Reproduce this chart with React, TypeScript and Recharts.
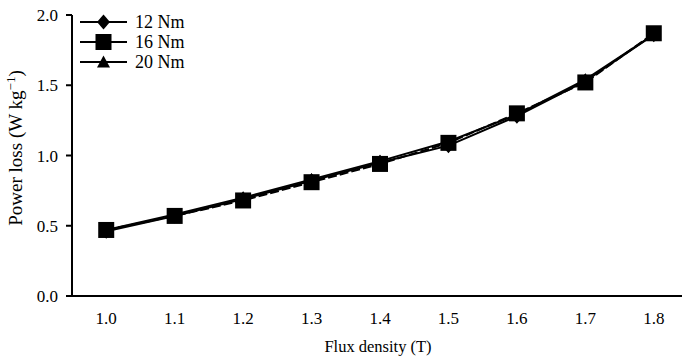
import React from 'react';
import { LineChart, Line, XAxis, YAxis, Label } from 'recharts';

const fluxDensity = ['1.0', '1.1', '1.2', '1.3', '1.4', '1.5', '1.6', '1.7', '1.8'];
const loss12Nm = [0.46, 0.57, 0.69, 0.82, 0.95, 1.07, 1.28, 1.53, 1.86];
const loss16Nm = [0.47, 0.57, 0.68, 0.81, 0.94, 1.09, 1.30, 1.52, 1.87];
const loss20Nm = [0.47, 0.58, 0.70, 0.83, 0.96, 1.10, 1.29, 1.54, 1.86];
const yTicks = [0, 0.5, 1.0, 1.5, 2.0];
const seriesNames = ['12 Nm', '16 Nm', '20 Nm'];
const seriesShapes = ['diamond', 'square', 'triangle'];

const data = fluxDensity.map((f, i) => ({
  flux: f,
  nm12: loss12Nm[i],
  nm16: loss16Nm[i],
  nm20: loss20Nm[i],
}));

// boundaries between the categories, for the tick marks
const edgeTicks = fluxDensity.map((_, i) => i).concat([fluxDensity.length]);

const FONT = '"Liberation Serif", "Times New Roman", serif';

function Marker({ shape, cx, cy, size }: { shape: string; cx: number; cy: number; size: number }) {
  const h = size / 2;
  if (shape === 'diamond') {
    return <polygon points={`${cx},${cy - h - 1} ${cx + h},${cy} ${cx},${cy + h + 1} ${cx - h},${cy}`} fill="#000" />;
  }
  if (shape === 'triangle') {
    return <polygon points={`${cx},${cy - h} ${cx + h},${cy + h - 1} ${cx - h},${cy + h - 1}`} fill="#000" />;
  }
  return <rect x={cx - h} y={cy - h} width={size} height={size} fill="#000" />;
}

const dotFn = (shape: string, size: number) => (props: any) => {
  const { cx, cy, index } = props;
  if (cx == null || cy == null) return <g key={index} />;
  return <Marker key={index} shape={shape} cx={cx} cy={cy} size={size} />;
};

function LegendBox() {
  return (
    <svg width={140} height={62} style={{ position: 'absolute', left: 80, top: 14, overflow: 'visible' }}>
      {seriesNames.map((name, i) => {
        const y = 8 + i * 20;
        return (
          <g key={name}>
            <line x1={0} x2={47} y1={y} y2={y} stroke="#000" strokeWidth={2} />
            <Marker shape={seriesShapes[i]} cx={23.5} cy={y} size={seriesShapes[i] === 'square' ? 16 : 13} />
            <text x={55} y={y + 6} fontFamily={FONT} fontSize={18} fill="#000">{name}</text>
          </g>
        );
      })}
    </svg>
  );
}

export default function App() {
  return (
    <div style={{ position: 'absolute', left: 0, top: 0, width: 682, height: 358, overflow: 'hidden', background: '#fff' }}>
      <LineChart width={700} height={358} data={data} margin={{ top: 15, right: 12, bottom: 0, left: 0 }}>
        <XAxis
          xAxisId="edges"
          type="number"
          domain={[0, fluxDensity.length]}
          ticks={edgeTicks}
          interval={0}
          height={0}
          axisLine={false}
          tick={false}
          tickLine={{ stroke: '#000', strokeWidth: 2 }}
          tickSize={6}
        />
        <XAxis
          dataKey="flux"
          type="category"
          scale="band"
          height={62}
          axisLine={{ stroke: '#000', strokeWidth: 2 }}
          tickLine={false}
          tickSize={6}
          tickMargin={10}
          interval={0}
          tick={{ fill: '#000', fontSize: 17, fontFamily: FONT }}
        >
          <Label
            content={() => (
              <text x={378} y={352} textAnchor="middle" fontFamily={FONT} fontSize={16.5} fill="#000">
                Flux density (T)
              </text>
            )}
          />
        </XAxis>
        <YAxis
          width={72}
          domain={[0, 2]}
          ticks={yTicks}
          interval={0}
          axisLine={{ stroke: '#000', strokeWidth: 2 }}
          tickLine={{ stroke: '#000', strokeWidth: 2 }}
          tickSize={6}
          tickMargin={8}
          tickFormatter={(v: number) => v.toFixed(1)}
          tick={{ fill: '#000', fontSize: 17, fontFamily: FONT }}
        >
          <Label
            content={() => (
              <text
                x={22}
                y={148}
                transform="rotate(-90 22 148)"
                textAnchor="middle"
                fontFamily={FONT}
                fontSize={19}
                fill="#000"
              >
                Power loss (W kg
                <tspan dy={-7} fontSize={13}>−1</tspan>
                <tspan dy={7}>)</tspan>
              </text>
            )}
          />
        </YAxis>
        <Line
          dataKey="nm12"
          name="12 Nm"
          stroke="#000"
          strokeWidth={2}
          dot={dotFn('diamond', 13)}
          activeDot={false}
          isAnimationActive={false}
        />
        <Line
          dataKey="nm20"
          name="20 Nm"
          stroke="#000"
          strokeWidth={2}
          dot={dotFn('triangle', 13)}
          activeDot={false}
          isAnimationActive={false}
        />
        <Line
          dataKey="nm16"
          name="16 Nm"
          stroke="#000"
          strokeWidth={2}
          strokeDasharray="9 3"
          dot={dotFn('square', 16)}
          activeDot={false}
          isAnimationActive={false}
        />
      </LineChart>
      <LegendBox />
    </div>
  );
}
